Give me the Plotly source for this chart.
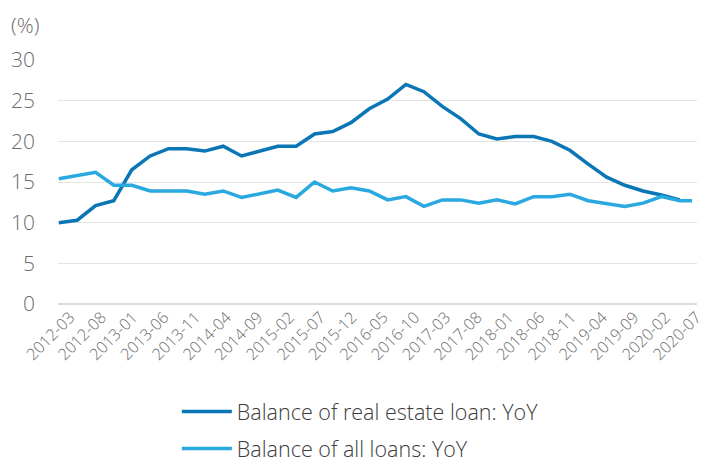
import plotly.graph_objects as go

# Quarter-end observations (latest month appended for total loans)
re_dates = [
    "2012-03", "2012-06", "2012-09", "2012-12",
    "2013-03", "2013-06", "2013-09", "2013-12",
    "2014-03", "2014-06", "2014-09", "2014-12",
    "2015-03", "2015-06", "2015-09", "2015-12",
    "2016-03", "2016-06", "2016-09", "2016-12",
    "2017-03", "2017-06", "2017-09", "2017-12",
    "2018-03", "2018-06", "2018-09", "2018-12",
    "2019-03", "2019-06", "2019-09", "2019-12",
    "2020-03", "2020-06", "2020-09",
]
all_dates = re_dates + ["2020-11"]

real_estate_yoy = [
    10.0, 10.3, 12.1, 12.7,
    16.5, 18.2, 19.1, 19.1,
    18.8, 19.4, 18.2, 18.8,
    19.4, 19.4, 20.9, 21.2,
    22.3, 24.0, 25.2, 27.0,
    26.1, 24.3, 22.8, 20.9,
    20.3, 20.6, 20.6, 20.0,
    18.9, 17.2, 15.6, 14.6,
    13.9, 13.4, 12.8,
]
all_loans_yoy = [
    15.4, 15.8, 16.2, 14.6,
    14.6, 13.9, 13.9, 13.9,
    13.5, 13.9, 13.1, 13.6,
    14.0, 13.1, 15.0, 13.9,
    14.3, 13.9, 12.8, 13.2,
    12.0, 12.8, 12.8, 12.4,
    12.8, 12.3, 13.2, 13.2,
    13.5, 12.7, 12.4, 12.0,
    12.4, 13.2, 12.7, 12.7,
]

names = ["Balance of real estate loan: YoY", "Balance of all loans: YoY"]
colors = ["#0a76b6", "#2aa8e0"]
y_ticks = [0, 5, 10, 15, 20, 25, 30]

FONT = "Open Sans"
GRAY = "#6b6b6b"

fig = go.Figure()
fig.add_trace(go.Scatter(
    x=re_dates, y=real_estate_yoy, mode="lines", name=names[0],
    legendgroup="re", line=dict(color=colors[0], width=3.5),
))
fig.add_trace(go.Scatter(
    x=all_dates, y=all_loans_yoy, mode="lines", name=names[1],
    legendgroup="all", line=dict(color=colors[1], width=3.5),
))
# empty trace so the month-label axis gets drawn
fig.add_trace(go.Scatter(
    x=[], y=[], xaxis="x2", mode="lines", showlegend=False, hoverinfo="skip",
))

fig.update_layout(
    width=712, height=462,
    margin=dict(l=58, r=15, t=60, b=158, autoexpand=False),
    paper_bgcolor="white", plot_bgcolor="white",
    font=dict(family=FONT, color=GRAY),
    showlegend=True,
    legend=dict(
        orientation="v", x=0.186, xanchor="left", y=-0.357, yanchor="top",
        font=dict(family=FONT, size=21.5, color="#3a3a3a", weight=300),
        bgcolor="rgba(0,0,0,0)", itemwidth=50, tracegroupgap=6,
    ),
    # data axis (quarterly), no labels of its own
    xaxis=dict(
        type="date",
        range=["2012-02-26", "2020-11-26"],
        showticklabels=False,
        showgrid=False, showline=False, zeroline=False, ticks="",
    ),
    # label axis: month labels every five months
    xaxis2=dict(
        type="date", overlaying="x", anchor="y", side="bottom",
        range=["2012-01-03", "2020-07-03"],
        tick0="2012-03-01", dtick="M5", tickformat="%Y-%m",
        tickangle=-45,
        tickfont=dict(family=FONT, size=16, color=GRAY, weight=300),
        showgrid=False, showline=False, zeroline=False, ticks="",
    ),
    yaxis=dict(
        range=[0, 30], tickvals=y_ticks,
        tickfont=dict(family=FONT, size=21, color=GRAY, weight=300),
        showgrid=True, gridcolor="#e4e4e4", gridwidth=1,
        zeroline=True, zerolinecolor="#dcdcdc", zerolinewidth=2,
        showline=False, ticks="", ticklabelstandoff=22,
    ),
    annotations=[dict(
        text="(%)", xref="paper", yref="paper",
        x=(25 - 58) / 639, y=(304 - 25) / 244,
        xanchor="center", yanchor="middle", showarrow=False,
        font=dict(family=FONT, size=21, color=GRAY, weight=300),
    )],
)

fig.write_html("out.html")
